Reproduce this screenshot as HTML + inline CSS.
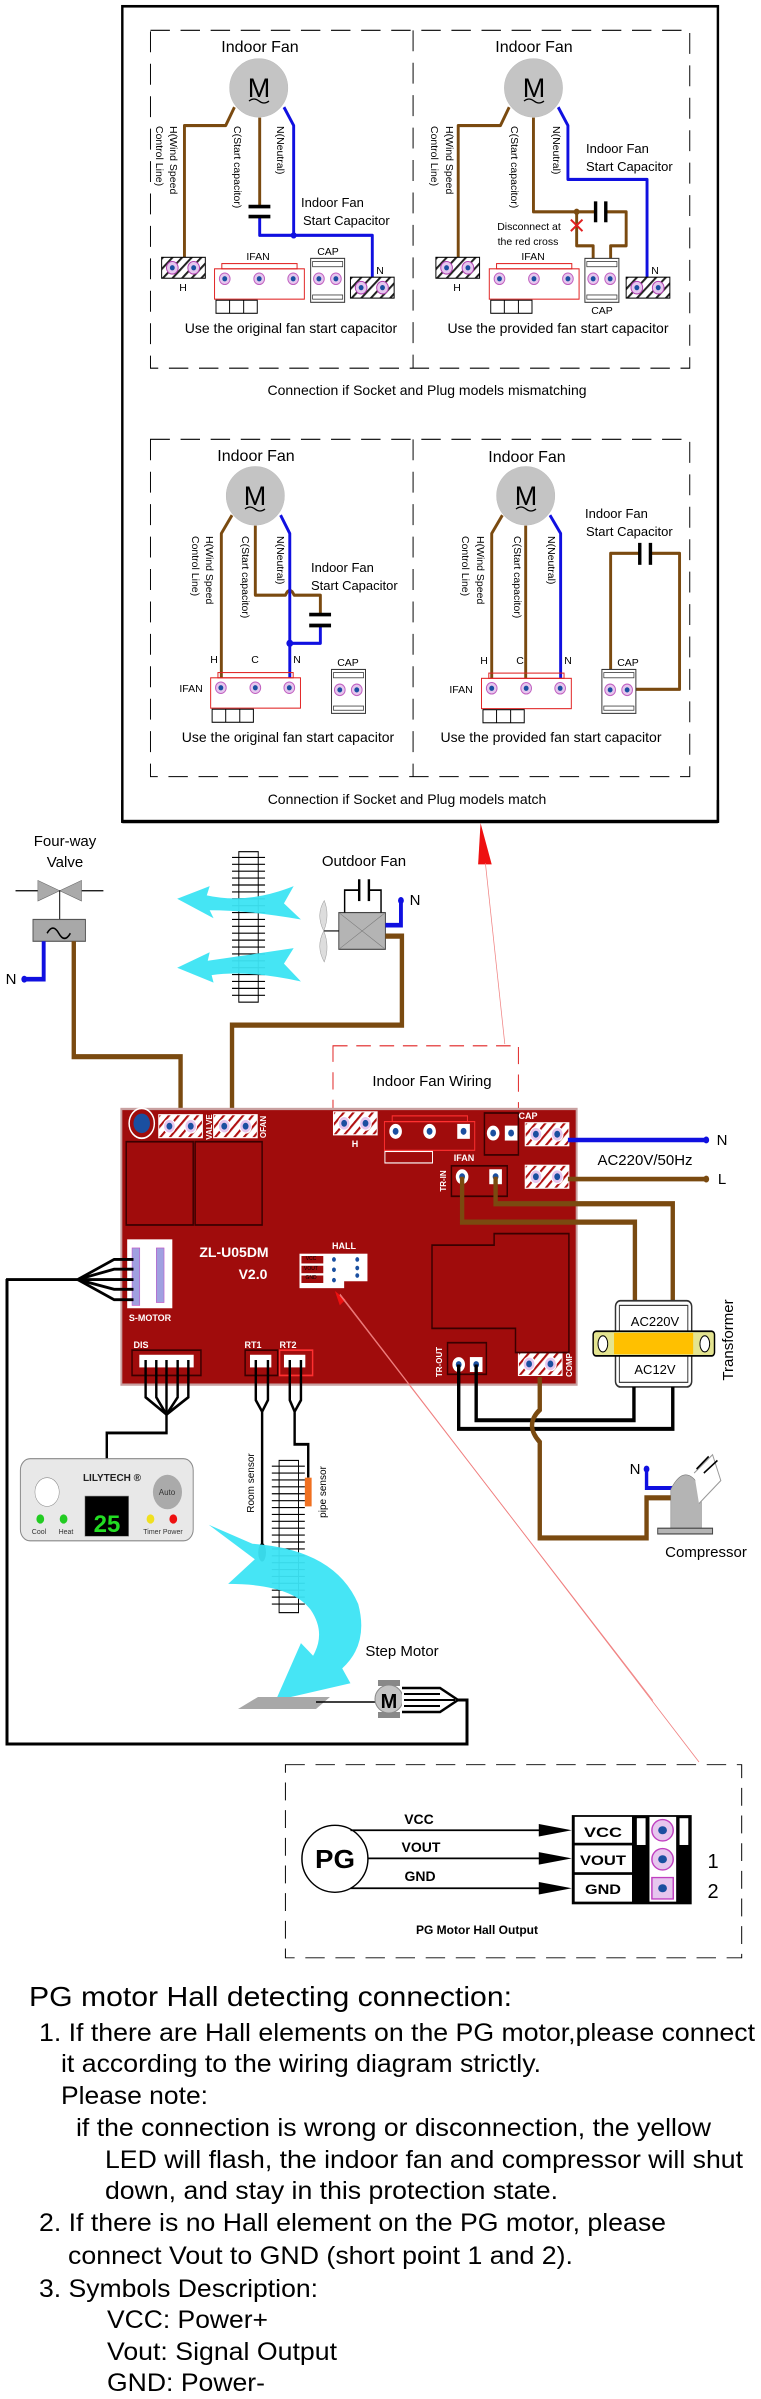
<!DOCTYPE html>
<html><head><meta charset="utf-8"><style>
html,body{margin:0;padding:0;background:#fff;}
svg{display:block;}
text{font-family:"Liberation Sans",Arial,sans-serif;}
</style></head><body>
<svg width="761" height="2399" viewBox="0 0 761 2399" xmlns="http://www.w3.org/2000/svg">
<defs>
<pattern id="h" patternUnits="userSpaceOnUse" width="14" height="14" patternTransform="rotate(45)">
<rect width="14" height="14" fill="#fff"/><rect width="4" height="14" fill="#222"/></pattern>
<pattern id="hr" patternUnits="userSpaceOnUse" width="14" height="14" patternTransform="rotate(45)">
<rect width="14" height="14" fill="#fff"/><rect width="4" height="14" fill="#b01010"/></pattern>
<g id="term"><rect width="90" height="40" fill="url(#h)" stroke="#000" stroke-width="2"/>
<circle cx="22" cy="20" r="12" fill="#e6c6ee" stroke="#b040b0" stroke-width="2"/><circle cx="22" cy="20" r="5" fill="#1a4fa0"/>
<circle cx="66" cy="20" r="12" fill="#e6c6ee" stroke="#b040b0" stroke-width="2"/><circle cx="66" cy="20" r="5" fill="#1a4fa0"/></g>
<g id="termr"><rect width="90" height="40" fill="url(#hr)" stroke="#fff" stroke-width="2"/>
<circle cx="22" cy="20" r="12" fill="#e6c6ee" stroke="#fff" stroke-width="2"/><circle cx="22" cy="20" r="6" fill="#1a4fa0"/>
<circle cx="66" cy="20" r="12" fill="#e6c6ee" stroke="#fff" stroke-width="2"/><circle cx="66" cy="20" r="6" fill="#1a4fa0"/></g>
<g id="pin"><circle r="11" fill="#e6c6ee" stroke="#c060c0" stroke-width="2"/><circle r="5" fill="#1a4fa0"/></g>
<g id="ifan"><rect x="0" y="10" width="185" height="58" fill="#fff" stroke="#e02020" stroke-width="2"/>
<rect x="15" y="0" width="155" height="10" fill="none" stroke="#e02020" stroke-width="2"/>
<use href="#pin" x="21" y="29"/><use href="#pin" x="92" y="29"/><use href="#pin" x="162" y="29"/>
<rect x="3" y="70" width="85" height="25" fill="#fff" stroke="#000" stroke-width="2"/>
<line x1="31" y1="70" x2="31" y2="95" stroke="#000" stroke-width="2"/><line x1="60" y1="70" x2="60" y2="95" stroke="#000" stroke-width="2"/></g>
<g id="cap"><rect x="0" y="0" width="70" height="84" fill="#fff" stroke="#333" stroke-width="2"/>
<rect x="4" y="6" width="62" height="10" fill="none" stroke="#333" stroke-width="1.5"/>
<rect x="4" y="70" width="62" height="8" fill="none" stroke="#333" stroke-width="1.5"/>
<use href="#pin" x="17" y="39"/><use href="#pin" x="52" y="39"/></g>
</defs>

<!-- ================= TOP BOX (zoom1 coords) ================= -->
<g transform="scale(0.4854,0.523)">
<rect x="252" y="12" width="1227" height="1558" fill="none" stroke="#000" stroke-width="5"/>
<g fill="none" stroke="#000" stroke-width="2" stroke-dasharray="40,22">
<rect x="310" y="58" width="1111" height="646"/><line x1="851" y1="58" x2="851" y2="704"/>
<rect x="310" y="840" width="1111" height="645"/><line x1="851" y1="840" x2="851" y2="1485"/>
</g>
<!-- motors -->
<g fill="#c4c4c4" stroke="#bbb"><ellipse cx="533" cy="168" rx="60" ry="56"/><ellipse cx="1099" cy="168" rx="60" ry="56"/><ellipse cx="526" cy="948" rx="60" ry="56"/><ellipse cx="1083" cy="948" rx="60" ry="56"/></g>
<g fill="none" stroke-width="6" stroke-linejoin="round">
<!-- TL -->
<polyline points="483,205 465,240 380,240 380,500" stroke="#7a4a10"/>
<polyline points="535,225 535,395" stroke="#7a4a10"/>
<polyline points="535,415 535,450 767,450 767,530" stroke="#1010e0"/>
<polyline points="585,205 605,240 605,450" stroke="#1010e0"/>
<!-- TR -->
<polyline points="1049,205 1031,240 944,240 944,500" stroke="#7a4a10"/>
<polyline points="1099,225 1099,405 1225,405" stroke="#7a4a10"/>
<polyline points="1250,405 1290,405 1290,470 1258,470 1258,525" stroke="#7a4a10"/>
<polyline points="1188,405 1188,470 1222,470 1222,525" stroke="#7a4a10"/>
<polyline points="1150,205 1170,240 1170,343 1333,343 1333,530" stroke="#1010e0"/>
<!-- BL -->
<polyline points="478,985 456,1020 456,1312" stroke="#7a4a10"/>
<path d="M526,1005 L526,1138 L588,1138 Q597,1120 606,1138 L660,1138 L660,1175" stroke="#7a4a10"/>
<polyline points="660,1196 660,1230 597,1230" stroke="#1010e0"/>
<polyline points="578,985 597,1020 597,1312" stroke="#1010e0"/>
<!-- BR -->
<polyline points="1035,985 1013,1020 1013,1313" stroke="#7a4a10"/>
<polyline points="1083,1005 1083,1313" stroke="#7a4a10"/>
<polyline points="1133,985 1155,1020 1155,1313" stroke="#1010e0"/>
<polyline points="1258,1318 1258,1058 1318,1058" stroke="#7a4a10"/>
<polyline points="1340,1058 1400,1058 1400,1318 1293,1318" stroke="#7a4a10"/>
</g>
<!-- capacitor plates -->
<g stroke="#000" stroke-width="7">
<line x1="512" y1="395" x2="557" y2="395"/><line x1="512" y1="414" x2="557" y2="414"/>
<line x1="1227" y1="385" x2="1227" y2="425"/><line x1="1248" y1="385" x2="1248" y2="425"/>
<line x1="637" y1="1175" x2="682" y2="1175"/><line x1="637" y1="1196" x2="682" y2="1196"/>
<line x1="1318" y1="1038" x2="1318" y2="1080"/><line x1="1340" y1="1038" x2="1340" y2="1080"/>
</g>
<g fill="#1010e0"><circle cx="605" cy="450" r="6"/><circle cx="597" cy="1230" r="7"/></g>
<circle cx="1188" cy="405" r="6" fill="#7a4a10"/>
<g stroke="#e02020" stroke-width="4"><line x1="1176" y1="420" x2="1200" y2="442"/><line x1="1200" y1="420" x2="1176" y2="442"/></g>
<!-- terminals / connectors -->
<use href="#term" x="333" y="492"/><use href="#term" x="722" y="530"/>
<use href="#ifan" x="442" y="504"/><use href="#cap" x="640" y="494"/>
<use href="#term" x="898" y="492"/><use href="#term" x="1290" y="530"/>
<use href="#ifan" x="1008" y="504"/><use href="#cap" x="1205" y="494"/>
<use href="#ifan" x="434" y="1286"/><use href="#cap" x="683" y="1280"/>
<use href="#ifan" x="992" y="1287"/><use href="#cap" x="1240" y="1280"/>
</g>
<!-- top texts real coords -->
<g font-size="16" fill="#000" text-anchor="middle">
<text x="260" y="52">Indoor Fan</text><text x="534" y="52">Indoor Fan</text>
<text x="256" y="461">Indoor Fan</text><text x="527" y="462">Indoor Fan</text>
</g>
<g font-size="27" fill="#000" text-anchor="middle">
<text x="259" y="97">M</text><text x="534" y="97">M</text><text x="255" y="505">M</text><text x="526" y="505">M</text>
</g>
<g fill="none" stroke="#000" stroke-width="1.3">
<path d="M249,101 q5,-4 10,0 t10,0"/><path d="M524,101 q5,-4 10,0 t10,0"/><path d="M245,509 q5,-4 10,0 t10,0"/><path d="M516,509 q5,-4 10,0 t10,0"/>
</g>
<g font-size="13" fill="#000">
<text x="301" y="207">Indoor Fan</text><text x="303" y="225">Start Capacitor</text>
<text x="586" y="153">Indoor Fan</text><text x="586" y="171">Start Capacitor</text>
<text x="311" y="572">Indoor Fan</text><text x="311" y="590">Start Capacitor</text>
<text x="585" y="518">Indoor Fan</text><text x="586" y="536">Start Capacitor</text>
</g>
<g font-size="10.5" fill="#000">
<text transform="translate(170,126) rotate(90)">H(Wind Speed</text><text transform="translate(156,126) rotate(90)">Control Line)</text>
<text transform="translate(234,126) rotate(90)">C(Start capacitor)</text><text transform="translate(277,126) rotate(90)">N(Neutral)</text>
<text transform="translate(446,126) rotate(90)">H(Wind Speed</text><text transform="translate(431,126) rotate(90)">Control Line)</text>
<text transform="translate(511,126) rotate(90)">C(Start capacitor)</text><text transform="translate(553,126) rotate(90)">N(Neutral)</text>
<text transform="translate(206,536) rotate(90)">H(Wind Speed</text><text transform="translate(192,536) rotate(90)">Control Line)</text>
<text transform="translate(242,536) rotate(90)">C(Start capacitor)</text><text transform="translate(277,536) rotate(90)">N(Neutral)</text>
<text transform="translate(477,536) rotate(90)">H(Wind Speed</text><text transform="translate(462,536) rotate(90)">Control Line)</text>
<text transform="translate(514,536) rotate(90)">C(Start capacitor)</text><text transform="translate(548,536) rotate(90)">N(Neutral)</text>
</g>
<g font-size="10.5" fill="#000" text-anchor="middle">
<text x="529" y="230">Disconnect at</text><text x="528" y="245">the red cross</text>
<text x="258" y="260">IFAN</text><text x="328" y="255">CAP</text><text x="183" y="291">H</text><text x="380" y="274">N</text>
<text x="533" y="260">IFAN</text><text x="457" y="291">H</text><text x="655" y="274">N</text><text x="602" y="314">CAP</text>
<text x="214" y="663">H</text><text x="255" y="663">C</text><text x="297" y="663">N</text><text x="191" y="692">IFAN</text><text x="348" y="666">CAP</text>
<text x="484" y="664">H</text><text x="520" y="664">C</text><text x="568" y="664">N</text><text x="461" y="693">IFAN</text><text x="628" y="666">CAP</text>
</g>
<g font-size="14" fill="#000" text-anchor="middle">
<text x="291" y="333">Use the original fan start capacitor</text>
<text x="558" y="333">Use the provided fan start capacitor</text>
<text x="288" y="742">Use the original fan start capacitor</text>
<text x="551" y="742">Use the provided fan start capacitor</text>
<text x="427" y="395">Connection if Socket and Plug models mismatching</text>
<text x="407" y="804">Connection if Socket and Plug models match</text>
</g>

<!-- ================= MIDDLE (zoom2 coords) ================= -->
<g transform="translate(0,800) scale(0.4854,0.5743)">
<!-- outer box bottom -->
<line x1="252" y1="38" x2="1479" y2="38" stroke="#000" stroke-width="5"/>
<line x1="252" y1="0" x2="252" y2="40" stroke="#000" stroke-width="5"/><line x1="1479" y1="0" x2="1479" y2="40" stroke="#000" stroke-width="5"/>
<!-- red arrow -->
<polygon points="990,40 985,112 1013,112" fill="#ee1010"/>
<line x1="1000" y1="110" x2="1040" y2="425" stroke="#f08080" stroke-width="1.5"/>
<!-- valve -->
<line x1="32" y1="158" x2="213" y2="158" stroke="#000" stroke-width="2"/>
<polygon points="78,140 78,176 123,158" fill="#aaa" stroke="#666"/><polygon points="168,140 168,176 123,158" fill="#aaa" stroke="#666"/>
<line x1="123" y1="158" x2="123" y2="208" stroke="#000" stroke-width="2"/>
<rect x="68" y="208" width="108" height="38" fill="#a8a8a8" stroke="#555" stroke-width="2"/>
<path d="M97,232 q12,-18 24,0 t24,0" fill="none" stroke="#000" stroke-width="3"/>
<polyline points="90,246 90,312 50,312" fill="none" stroke="#1010e0" stroke-width="8"/><circle cx="50" cy="312" r="6" fill="#1010e0"/>
<polyline points="152,246 152,447 372,447 372,552" fill="none" stroke="#7a4a10" stroke-width="9"/>
<!-- fins -->
<rect x="492" y="90" width="40" height="262" fill="#fff" stroke="#000" stroke-width="2"/>
<g stroke="#000" stroke-width="2"><path d="M478,100H546M478,112H546M478,124H546M478,136H546M478,148H546M478,160H546M478,172H546M478,184H546M478,196H546M478,208H546M478,220H546M478,232H546M478,244H546M478,256H546M478,268H546M478,280H546M478,292H546M478,304H546M478,316H546M478,328H546M478,340H546"/></g>
<!-- cyan arrows -->
<g fill="#3ce4f4" opacity="0.95">
<path d="M365,172 L432,150 L426,166 Q510,182 605,150 L585,180 L620,208 Q510,192 432,192 L440,206 Z"/>
<path d="M365,292 L432,265 L428,280 Q510,270 605,258 L585,285 L620,316 Q510,296 436,305 L440,318 Z"/>
</g>
<!-- outdoor fan -->
<rect x="698" y="196" width="96" height="64" fill="#b4b4b4" stroke="#444" stroke-width="2"/>
<line x1="698" y1="196" x2="794" y2="260" stroke="#777"/><line x1="794" y1="196" x2="698" y2="260" stroke="#777"/>
<polyline points="710,196 710,157 740,157" fill="none" stroke="#000" stroke-width="3"/><polyline points="760,157 785,157 785,196" fill="none" stroke="#000" stroke-width="3"/>
<line x1="740" y1="138" x2="740" y2="176" stroke="#000" stroke-width="5"/><line x1="760" y1="138" x2="760" y2="176" stroke="#000" stroke-width="5"/>
<line x1="667" y1="228" x2="698" y2="228" stroke="#000" stroke-width="2"/>
<path d="M667,228 Q650,200 668,175 Q680,200 667,228 Q680,255 668,282 Q650,255 667,228Z" fill="#ddd" stroke="#999"/>
<polyline points="794,218 826,218 826,175" fill="none" stroke="#1010e0" stroke-width="8"/><circle cx="826" cy="175" r="6" fill="#1010e0"/>
<polyline points="794,237 828,237 828,392 478,392 478,552" fill="none" stroke="#7a4a10" stroke-width="9"/>
<!-- indoor fan wiring dashed -->
<rect x="686" y="428" width="382" height="112" fill="none" stroke="#e02020" stroke-width="2" stroke-dasharray="30,18"/>
<!-- PCB -->
<rect x="250" y="538" width="938" height="480" fill="#a00c0c" stroke="#c8a0a0" stroke-width="4"/>
<circle cx="292" cy="563" r="26" fill="#a00c0c" stroke="#fff" stroke-width="3"/><circle cx="292" cy="563" r="17" fill="#1a4fa0"/>
<use href="#termr" x="327" y="548"/><use href="#termr" x="440" y="548"/><use href="#termr" x="687" y="543"/>
<use href="#termr" x="1082" y="562"/><use href="#termr" x="1082" y="636"/><use href="#termr" x="1068" y="962"/>
<g fill="none" stroke="#3a0000" stroke-width="3">
<rect x="260" y="595" width="138" height="145"/><rect x="402" y="595" width="138" height="145"/>
<path d="M890,775 L1018,775 L1018,755 L1172,755 L1172,962 L1062,962 L1062,920 L890,920 Z"/>
<rect x="998" y="545" width="70" height="73"/>
<rect x="930" y="637" width="115" height="53"/>
<rect x="922" y="945" width="80" height="55"/>
</g>
<rect x="792" y="560" width="186" height="50" fill="none" stroke="#ff3030" stroke-width="2"/>
<rect x="808" y="550" width="155" height="10" fill="none" stroke="#ff3030" stroke-width="2"/>
<g fill="#fff"><circle cx="815" cy="577" r="13"/><circle cx="885" cy="577" r="13"/><rect x="942" y="564" width="26" height="26"/>
<circle cx="1016" cy="580" r="13"/><rect x="1040" y="567" width="26" height="26"/>
<circle cx="952" cy="656" r="13"/><rect x="1008" y="643" width="26" height="26"/>
<circle cx="945" cy="983" r="13"/><rect x="968" y="970" width="26" height="26"/></g>
<g fill="#1a4fa0"><circle cx="815" cy="577" r="6"/><circle cx="885" cy="577" r="6"/><circle cx="955" cy="577" r="6"/><circle cx="1016" cy="580" r="6"/><circle cx="1053" cy="580" r="6"/><circle cx="952" cy="656" r="6"/><circle cx="1021" cy="656" r="6"/><circle cx="945" cy="983" r="6"/><circle cx="981" cy="983" r="6"/></g>
<rect x="793" y="612" width="98" height="20" fill="none" stroke="#fff" stroke-width="2"/>
<!-- S-MOTOR -->
<rect x="262" y="765" width="93" height="120" fill="#fff"/>
<g fill="#a0a0e0" stroke="#c040c0"><rect x="272" y="780" width="16" height="100"/><rect x="322" y="780" width="16" height="95"/></g>
<!-- HALL -->
<rect x="617" y="790" width="140" height="48" fill="#fff"/><rect x="617" y="830" width="92" height="20" fill="#fff"/>
<g fill="#a00c0c"><rect x="621" y="794" width="45" height="13"/><rect x="621" y="811" width="45" height="13"/><rect x="621" y="828" width="45" height="13"/></g>
<g fill="#1a4fa0"><circle cx="688" cy="800" r="4"/><circle cx="688" cy="818" r="4"/><circle cx="688" cy="836" r="4"/><circle cx="736" cy="800" r="4"/><circle cx="736" cy="815" r="4"/><circle cx="736" cy="828" r="4"/></g>
<polygon points="690,855 700,880 712,870" fill="#ee1010"/>
<!-- DIS RT -->
<rect x="272" y="958" width="142" height="44" fill="none" stroke="#3a0000" stroke-width="3"/>
<rect x="505" y="958" width="67" height="44" fill="none" stroke="#3a0000" stroke-width="3"/>
<rect x="576" y="958" width="68" height="44" fill="none" stroke="#ff3030" stroke-width="3"/>
<g fill="#fff"><rect x="287" y="966" width="112" height="22"/><rect x="515" y="966" width="44" height="22"/><rect x="585" y="966" width="44" height="22"/></g>
<!-- wires AC -->
<line x1="1170" y1="592" x2="1455" y2="592" stroke="#1010e0" stroke-width="8"/><circle cx="1455" cy="592" r="6" fill="#1010e0"/>
<line x1="1170" y1="660" x2="1455" y2="660" stroke="#7a4a10" stroke-width="8"/><circle cx="1455" cy="660" r="6" fill="#7a4a10"/>
<polyline points="952,656 952,735 1308,735 1308,872" fill="none" stroke="#7a4a10" stroke-width="9"/>
<polyline points="1021,656 1021,703 1386,703 1386,872" fill="none" stroke="#7a4a10" stroke-width="9"/>
<!-- transformer -->
<rect x="1268" y="872" width="157" height="150" rx="10" fill="#fff" stroke="#333" stroke-width="3"/>
<rect x="1276" y="880" width="141" height="45" fill="#fff" stroke="#333" stroke-width="2"/>
<rect x="1276" y="968" width="141" height="46" fill="#fff" stroke="#333" stroke-width="2"/>
<rect x="1222" y="925" width="250" height="43" rx="6" fill="#e4e490" stroke="#000" stroke-width="3"/>
<rect x="1265" y="928" width="163" height="37" fill="#ffc000"/>
<ellipse cx="1242" cy="947" rx="10" ry="14" fill="#fff" stroke="#000" stroke-width="2"/><ellipse cx="1452" cy="947" rx="10" ry="14" fill="#fff" stroke="#000" stroke-width="2"/>
<!-- TR-OUT black -->
<polyline points="945,983 945,1095 1386,1095 1386,1022" fill="none" stroke="#000" stroke-width="7"/>
<polyline points="981,983 981,1080 1306,1080 1306,1022" fill="none" stroke="#000" stroke-width="7"/>
<path d="M1112,1005 L1112,1062 Q1080,1088 1112,1118 L1112,1285 L1332,1285 L1332,1215 L1385,1215" fill="none" stroke="#7a4a10" stroke-width="9"/>
<polyline points="1332,1165 1332,1198 1385,1198" fill="none" stroke="#1010e0" stroke-width="7"/><circle cx="1332" cy="1165" r="6" fill="#1010e0"/>
<!-- compressor -->
<path d="M1382,1270 L1382,1200 Q1412,1150 1445,1200 L1445,1270 Z" fill="#b4b4b4" stroke="#777"/>
<rect x="1355" y="1268" width="113" height="10" fill="#b4b4b4" stroke="#444" stroke-width="2"/>
<path d="M1430,1172 L1468,1140 L1485,1185 L1440,1225" fill="#fff" stroke="#999" stroke-width="2"/>
<line x1="1435" y1="1165" x2="1460" y2="1143" stroke="#000" stroke-width="3"/><line x1="1450" y1="1172" x2="1478" y2="1150" stroke="#000" stroke-width="3"/>
<!-- S-motor wires -->
<g fill="none" stroke="#000" stroke-width="5">
<polyline points="275,800 235,800 160,835 15,835 15,1568"/><polyline points="275,817 235,817 160,835"/><polyline points="275,835 160,835"/><polyline points="275,852 235,852 160,835"/><polyline points="275,870 235,870 160,835"/>
<!-- DIS -->
<polyline points="300,975 300,1040 343,1070"/><polyline points="322,975 322,1040 343,1070"/><polyline points="343,975 343,1102 220,1102 220,1147"/><polyline points="366,975 366,1040 343,1070"/><polyline points="388,975 388,1040 343,1070"/>
<!-- RT -->
<polyline points="527,975 527,1045 540,1065"/><polyline points="552,975 552,1045 540,1065 540,1310"/>
<polyline points="597,975 597,1045 607,1065"/><polyline points="620,975 620,1045 607,1065 607,1122 635,1122 635,1180"/>
</g>
<ellipse cx="540" cy="1310" rx="8" ry="16" fill="#000"/>
<rect x="628" y="1180" width="14" height="50" fill="#f07020"/>
<!-- display -->
<rect x="42" y="1147" width="356" height="143" rx="20" fill="#e8e8e8" stroke="#888" stroke-width="2"/>
<circle cx="97" cy="1205" r="25" fill="#fff" stroke="#888"/><circle cx="345" cy="1205" r="30" fill="#aaa"/>
<rect x="175" y="1212" width="90" height="70" fill="#000" stroke="#888"/>
<g fill="#22cc22"><circle cx="83" cy="1252" r="8"/><circle cx="131" cy="1252" r="8"/></g>
<circle cx="310" cy="1252" r="8" fill="#f0e020"/><circle cx="357" cy="1252" r="8" fill="#ee1010"/>
<!-- evaporator -->
<rect x="575" y="1150" width="40" height="265" fill="#fff" stroke="#000" stroke-width="2"/>
<g stroke="#000" stroke-width="2"><path d="M560,1160H628M560,1172H628M560,1184H628M560,1196H628M560,1208H628M560,1220H628M560,1232H628M560,1244H628M560,1256H628M560,1268H628M560,1280H628M560,1292H628M560,1304H628M560,1316H628M560,1328H628M560,1340H628M560,1352H628M560,1364H628M560,1376H628M560,1388H628M560,1400H628"/></g>
<!-- big cyan arrow -->
<path d="M430,1262 L520,1295 Q690,1305 738,1400 Q760,1470 705,1512 L722,1538 L568,1568 L620,1468 L645,1490 Q672,1450 640,1410 Q600,1365 470,1365 L525,1322 Z" fill="#3ce4f4" opacity="0.95"/>
<!-- red thin line -->
<line x1="700" y1="862" x2="1345" y2="1568" stroke="#f08080" stroke-width="1.5"/>
</g>

<!-- middle texts real coords -->
<g font-size="15" fill="#000" text-anchor="middle">
<text x="65" y="846">Four-way</text><text x="65" y="867">Valve</text>
<text x="364" y="866">Outdoor Fan</text><text x="432" y="1086">Indoor Fan Wiring</text>
<text x="645" y="1165">AC220V/50Hz</text><text x="706" y="1557">Compressor</text><text x="402" y="1656">Step Motor</text>
<text x="722" y="1145">N</text><text x="722" y="1184">L</text>
<text x="415" y="905">N</text><text x="11" y="984">N</text><text x="635" y="1474">N</text>
<text x="655" y="1326" font-size="13">AC220V</text><text x="655" y="1374" font-size="13">AC12V</text>
<text transform="translate(733,1340) rotate(-90)">Transformer</text>
</g>
<g font-family="Liberation Sans" font-weight="bold" fill="#fff" text-anchor="middle">
<text x="234" y="1257" font-size="14">ZL-U05DM</text><text x="253" y="1279" font-size="14">V2.0</text>
<text x="355" y="1147" font-size="9">H</text><text x="464" y="1161" font-size="9">IFAN</text><text x="528" y="1119" font-size="9">CAP</text>
<text x="344" y="1249" font-size="9">HALL</text><text x="150" y="1321" font-size="9">S-MOTOR</text>
<text x="141" y="1348" font-size="9">DIS</text><text x="253" y="1348" font-size="9">RT1</text><text x="288" y="1348" font-size="9">RT2</text>
<text transform="translate(212,1127) rotate(-90)" font-size="8">VALVE</text><text transform="translate(266,1127) rotate(-90)" font-size="8">OFAN</text>
<text transform="translate(446,1181) rotate(-90)" font-size="8">TR-IN</text><text transform="translate(442,1362) rotate(-90)" font-size="8">TR-OUT</text>
<text transform="translate(572,1365) rotate(-90)" font-size="8">COMP</text>
</g>
<g font-size="5" fill="#000" text-anchor="middle"><text x="311" y="1260">VCC</text><text x="311" y="1270">VOUT</text><text x="311" y="1279">GND</text></g>
<text x="112" y="1481" font-size="10" font-weight="bold" text-anchor="middle" fill="#222">LILYTECH ®</text>
<text x="167" y="1495" font-size="8" text-anchor="middle" fill="#333">Auto</text>
<text x="107" y="1532" font-size="24" font-weight="bold" text-anchor="middle" fill="#22dd22">25</text>
<g font-size="7" fill="#333" text-anchor="middle"><text x="39" y="1534">Cool</text><text x="66" y="1534">Heat</text><text x="163" y="1534">Timer Power</text></g>
<g font-size="10" fill="#000" text-anchor="middle"><text transform="translate(254,1483) rotate(-90)">Room sensor</text><text transform="translate(326,1492) rotate(-90)">pipe sensor</text></g>

<!-- step motor (real coords) -->
<polygon points="238,1709 316,1709 330,1697 258,1697" fill="#a8a8a8"/>
<line x1="316" y1="1702" x2="378" y2="1702" stroke="#000" stroke-width="1.5"/>
<rect x="378" y="1680" width="22" height="6" fill="#888"/><rect x="378" y="1712" width="22" height="6" fill="#888"/>
<circle cx="389" cy="1699" r="14" fill="#c4c4c4" stroke="#888"/>
<text x="389" y="1708" font-size="20" font-weight="bold" text-anchor="middle">M</text>
<path d="M402,1688 L440,1688 L458,1700 L440,1712 L402,1712" fill="#fff" stroke="#000" stroke-width="2.5"/>
<path d="M404,1694 L440,1694 M404,1700 L455,1700 M404,1706 L440,1706" stroke="#000" stroke-width="2"/>
<polyline points="7,1279 7,1744 467,1744 467,1700 458,1700" fill="none" stroke="#000" stroke-width="3"/>
<line x1="340" y1="1294" x2="699" y2="1762" stroke="#f08080" stroke-width="0.8"/>

<!-- ================= PG (zoom3 coords) ================= -->
<g transform="translate(0,1700) scale(0.4854,0.4461)">
<rect x="588" y="145" width="940" height="433" fill="none" stroke="#000" stroke-width="2" stroke-dasharray="40,22"/>
<ellipse cx="690" cy="356" rx="68" ry="75" fill="#fff" stroke="#000" stroke-width="3"/>
<g stroke="#000" stroke-width="4"><line x1="722" y1="292" x2="1120" y2="292"/><line x1="758" y1="355" x2="1120" y2="355"/><line x1="722" y1="422" x2="1120" y2="422"/></g>
<g fill="#000"><polygon points="1110,278 1178,292 1110,306"/><polygon points="1110,341 1178,355 1110,369"/><polygon points="1110,408 1178,422 1110,436"/></g>
<rect x="1178" y="258" width="247" height="200" fill="#000"/>
<g fill="#fff"><rect x="1184" y="262" width="118" height="58"/><rect x="1184" y="326" width="118" height="60"/><rect x="1184" y="392" width="118" height="60"/>
<rect x="1312" y="265" width="18" height="60"/><rect x="1400" y="265" width="18" height="60"/><rect x="1338" y="262" width="55" height="190"/></g>
<g fill="#e6c6ee" stroke="#c040c0" stroke-width="3"><ellipse cx="1365" cy="292" rx="22" ry="24"/><ellipse cx="1365" cy="357" rx="22" ry="24"/><rect x="1343" y="398" width="44" height="48"/></g>
<g fill="#1a4fa0"><circle cx="1365" cy="292" r="9"/><circle cx="1365" cy="357" r="9"/><circle cx="1365" cy="422" r="9"/></g>
</g>
<g font-family="Liberation Sans" font-weight="bold" fill="#000" text-anchor="middle">
<text x="335" y="1868" font-size="26" textLength="40" lengthAdjust="spacingAndGlyphs">PG</text>
<text x="419" y="1824" font-size="14">VCC</text><text x="421" y="1852" font-size="14">VOUT</text><text x="420" y="1881" font-size="14">GND</text>
<text x="603" y="1837" font-size="14" textLength="38" lengthAdjust="spacingAndGlyphs">VCC</text>
<text x="603" y="1865" font-size="14" textLength="46" lengthAdjust="spacingAndGlyphs">VOUT</text>
<text x="603" y="1894" font-size="14" textLength="36" lengthAdjust="spacingAndGlyphs">GND</text>
<text x="477" y="1934" font-size="12">PG Motor Hall Output</text>
</g>
<g font-size="20" fill="#000" text-anchor="middle"><text x="713" y="1868">1</text><text x="713" y="1898">2</text></g>

<!-- notes -->
<g fill="#000" font-size="25" lengthAdjust="spacingAndGlyphs">
<text x="29" y="2006" font-size="28" textLength="483" lengthAdjust="spacingAndGlyphs">PG motor Hall detecting connection:</text>
<text x="39" y="2041" textLength="716" lengthAdjust="spacingAndGlyphs">1. If there are Hall elements on the PG motor,please connect</text>
<text x="61" y="2072" textLength="480" lengthAdjust="spacingAndGlyphs">it according to the wiring diagram strictly.</text>
<text x="61" y="2104" textLength="147" lengthAdjust="spacingAndGlyphs">Please note:</text>
<text x="76" y="2136" textLength="635" lengthAdjust="spacingAndGlyphs">if the connection is wrong or disconnection, the yellow</text>
<text x="105" y="2168" textLength="638" lengthAdjust="spacingAndGlyphs">LED will flash, the indoor fan and compressor will shut</text>
<text x="105" y="2199" textLength="453" lengthAdjust="spacingAndGlyphs">down, and stay in this protection state.</text>
<text x="39" y="2231" textLength="627" lengthAdjust="spacingAndGlyphs">2. If there is no Hall element on the PG motor, please</text>
<text x="68" y="2264" textLength="505" lengthAdjust="spacingAndGlyphs">connect Vout to GND (short point 1 and 2).</text>
<text x="39" y="2297" textLength="279" lengthAdjust="spacingAndGlyphs">3. Symbols Description:</text>
<text x="107" y="2328" textLength="161" lengthAdjust="spacingAndGlyphs">VCC: Power+</text>
<text x="107" y="2360" textLength="230" lengthAdjust="spacingAndGlyphs">Vout: Signal Output</text>
<text x="107" y="2391" textLength="158" lengthAdjust="spacingAndGlyphs">GND: Power-</text>
</g>
</svg>
</body></html>
